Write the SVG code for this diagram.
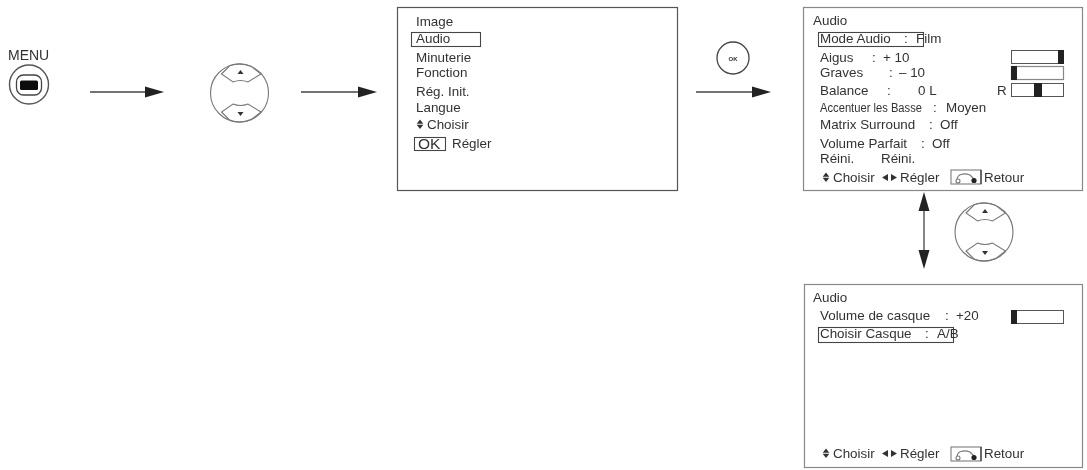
<svg xmlns="http://www.w3.org/2000/svg" width="1087" height="470" viewBox="0 0 1087 470">
<style>
text{font-family:"Liberation Sans",Arial,sans-serif;font-size:13.4px;fill:#333}
.box{fill:none;stroke:#555;stroke-width:1.2}
.sel{fill:none;stroke:#444;stroke-width:1.1}
.lite{fill:none;stroke:#888;stroke-width:1.2}
.bar{fill:#fff;stroke:#555;stroke-width:1}
.fill{fill:#222}
.line{stroke:#444;stroke-width:1.3;fill:none}
.head{fill:#222}
.pad{fill:none;stroke:#777;stroke-width:1.1}
.tri{fill:#333}
</style>
<defs>
<filter id="soft" x="-2%" y="-2%" width="104%" height="104%"><feGaussianBlur stdDeviation="0.35"/></filter>
<g id="dpad">
<circle class="pad" r="29"/>
<path class="pad" d="M-18-19L-9.500-27.400A29 29 0 0 1 12-26.400L21.500-19L8.500-11Q1-14-6.500-11Z"/>
<path class="pad" d="M-18 19L-9.500 27.400A29 29 0 0 0 12 26.400L21.500 19L8.500 11Q1 14-6.500 11Z"/>
<path class="tri" d="M1-23L4-19H-2Z"/>
<path class="tri" d="M1 23L4 19H-2Z"/>
</g>
<g id="updown"><path class="tri" d="M0-9.500L3.300-5.300H-3.300ZM0 0L3.300-4.200H-3.300Z"/></g>
<g id="leftright"><path class="tri" d="M0-3.500L6-7V0ZM15-3.500L9-7V0Z"/></g>
<g id="ret">
<rect class="lite" x="0" y="0" width="30" height="14"/>
<path d="M30 0V14" stroke="#333" stroke-width="1.200"/>
<path class="pad" d="M6 9Q7 5 10 4.500Q14 3 19 5L23 9"/>
<circle class="pad" cx="7" cy="11" r="2"/>
<circle class="fill" cx="23" cy="10.500" r="2.600"/>
</g>
</defs>
<g filter="url(#soft)">
<g id="connectors">
<path class="line" d="M90 92H148"/><path class="head" d="M145 86.500L164 92L145 97.500Z"/>
<path class="line" d="M301 92H360"/><path class="head" d="M358 86.500L377 92L358 97.500Z"/>
<path class="line" d="M696 92H755"/><path class="head" d="M752 86.500L771 92L752 97.500Z"/>
<path class="line" d="M924 205V255"/><path class="head" d="M924 192L929.500 211H918.500Z"/><path class="head" d="M924 269L929.500 250H918.500Z"/>
</g>
<g id="menu-button">
<text x="8" y="60" style="font-size:14px">MENU</text>
<circle cx="29" cy="84.500" r="19.500" fill="none" stroke="#555" stroke-width="1.400"/>
<rect x="16.500" y="75" width="25" height="20" rx="7" fill="none" stroke="#444" stroke-width="1.300"/>
<rect x="20" y="80.500" width="18" height="9.500" rx="1.500" fill="#111"/>
</g>
<g id="dpad-1"><use href="#dpad" x="239.500" y="93"/></g>
<g id="menu-main">
<rect class="box" x="397.500" y="7.500" width="280" height="183"/>
<text x="416" y="26">Image</text>
<rect class="sel" x="411.500" y="32.500" width="69" height="14"/>
<text x="416" y="43">Audio</text>
<text x="416" y="62">Minuterie</text>
<text x="416" y="77">Fonction</text>
<text x="416" y="96">Rég. Init.</text>
<text x="416" y="112">Langue</text>
<use href="#updown" x="420" y="129"/>
<text x="427" y="129">Choisir</text>
<rect class="sel" x="414.500" y="137.500" width="31" height="13"/>
<text x="418" y="149" style="font-size:15.500px">OK</text>
<text x="452" y="148">Régler</text>
</g>
<g id="ok-button">
<circle cx="733" cy="58" r="16" fill="none" stroke="#444" stroke-width="1.300"/>
<text x="733" y="60.500" text-anchor="middle" style="font-size:6px;font-weight:bold">OK</text>
</g>
<g id="menu-audio">
<rect class="lite" x="803.500" y="7.500" width="279" height="183"/>
<text x="813" y="25">Audio</text>
<rect class="sel" x="818.500" y="32.500" width="105" height="14"/>
<text x="820" y="43">Mode Audio</text><text x="904" y="43">:</text><text x="916" y="43">Film</text>
<text x="820" y="62">Aigus</text><text x="872" y="62">:</text><text x="883" y="62">+ 10</text>
<rect class="bar" x="1011.500" y="50.500" width="52" height="13"/><rect class="fill" x="1058" y="50" width="6" height="14"/>
<text x="820" y="77">Graves</text><text x="889" y="77">:</text><text x="899" y="77">– 10</text>
<rect x="1011.500" y="66.500" width="52" height="13" class="lite"/><rect class="fill" x="1011" y="66" width="6" height="14"/>
<text x="820" y="95">Balance</text><text x="887" y="95">:</text><text x="918" y="95">0 L</text>
<text x="997" y="95">R</text>
<rect class="bar" x="1011.500" y="83.500" width="52" height="13"/><rect class="fill" x="1034" y="83" width="8" height="14"/>
<text x="820" y="112" style="font-size:12px" textLength="102" lengthAdjust="spacingAndGlyphs">Accentuer les Basse</text><text x="933" y="112">:</text><text x="946" y="112">Moyen</text>
<text x="820" y="129">Matrix Surround</text><text x="929" y="129">:</text><text x="940" y="129">Off</text>
<text x="820" y="148">Volume Parfait</text><text x="921" y="148">:</text><text x="932" y="148">Off</text>
<text x="820" y="163">Réini.</text><text x="881" y="163">Réini.</text>
<use href="#updown" x="826" y="182"/>
<text x="833" y="182">Choisir</text>
<use href="#leftright" x="882" y="181"/>
<text x="900" y="182">Régler</text>
<use href="#ret" x="951" y="170"/>
<text x="984" y="182">Retour</text>
</g>
<g id="dpad-2"><use href="#dpad" x="984" y="232"/></g>
<g id="menu-casque">
<rect class="lite" x="804.500" y="284.500" width="278" height="183"/>
<text x="813" y="302">Audio</text>
<text x="820" y="320">Volume de casque</text><text x="945" y="320">:</text><text x="956" y="320">+20</text>
<rect class="bar" x="1011.500" y="310.500" width="52" height="13"/><rect class="fill" x="1011" y="310" width="6" height="14"/>
<rect class="sel" x="818.500" y="327.500" width="135" height="15"/>
<text x="820" y="338">Choisir Casque</text><text x="925" y="338">:</text><text x="937" y="338">A/B</text>
<use href="#updown" x="826" y="458"/>
<text x="833" y="458">Choisir</text>
<use href="#leftright" x="882" y="457"/>
<text x="900" y="458">Régler</text>
<use href="#ret" x="951" y="447"/>
<text x="984" y="458">Retour</text>
</g>
</g>
</svg>
